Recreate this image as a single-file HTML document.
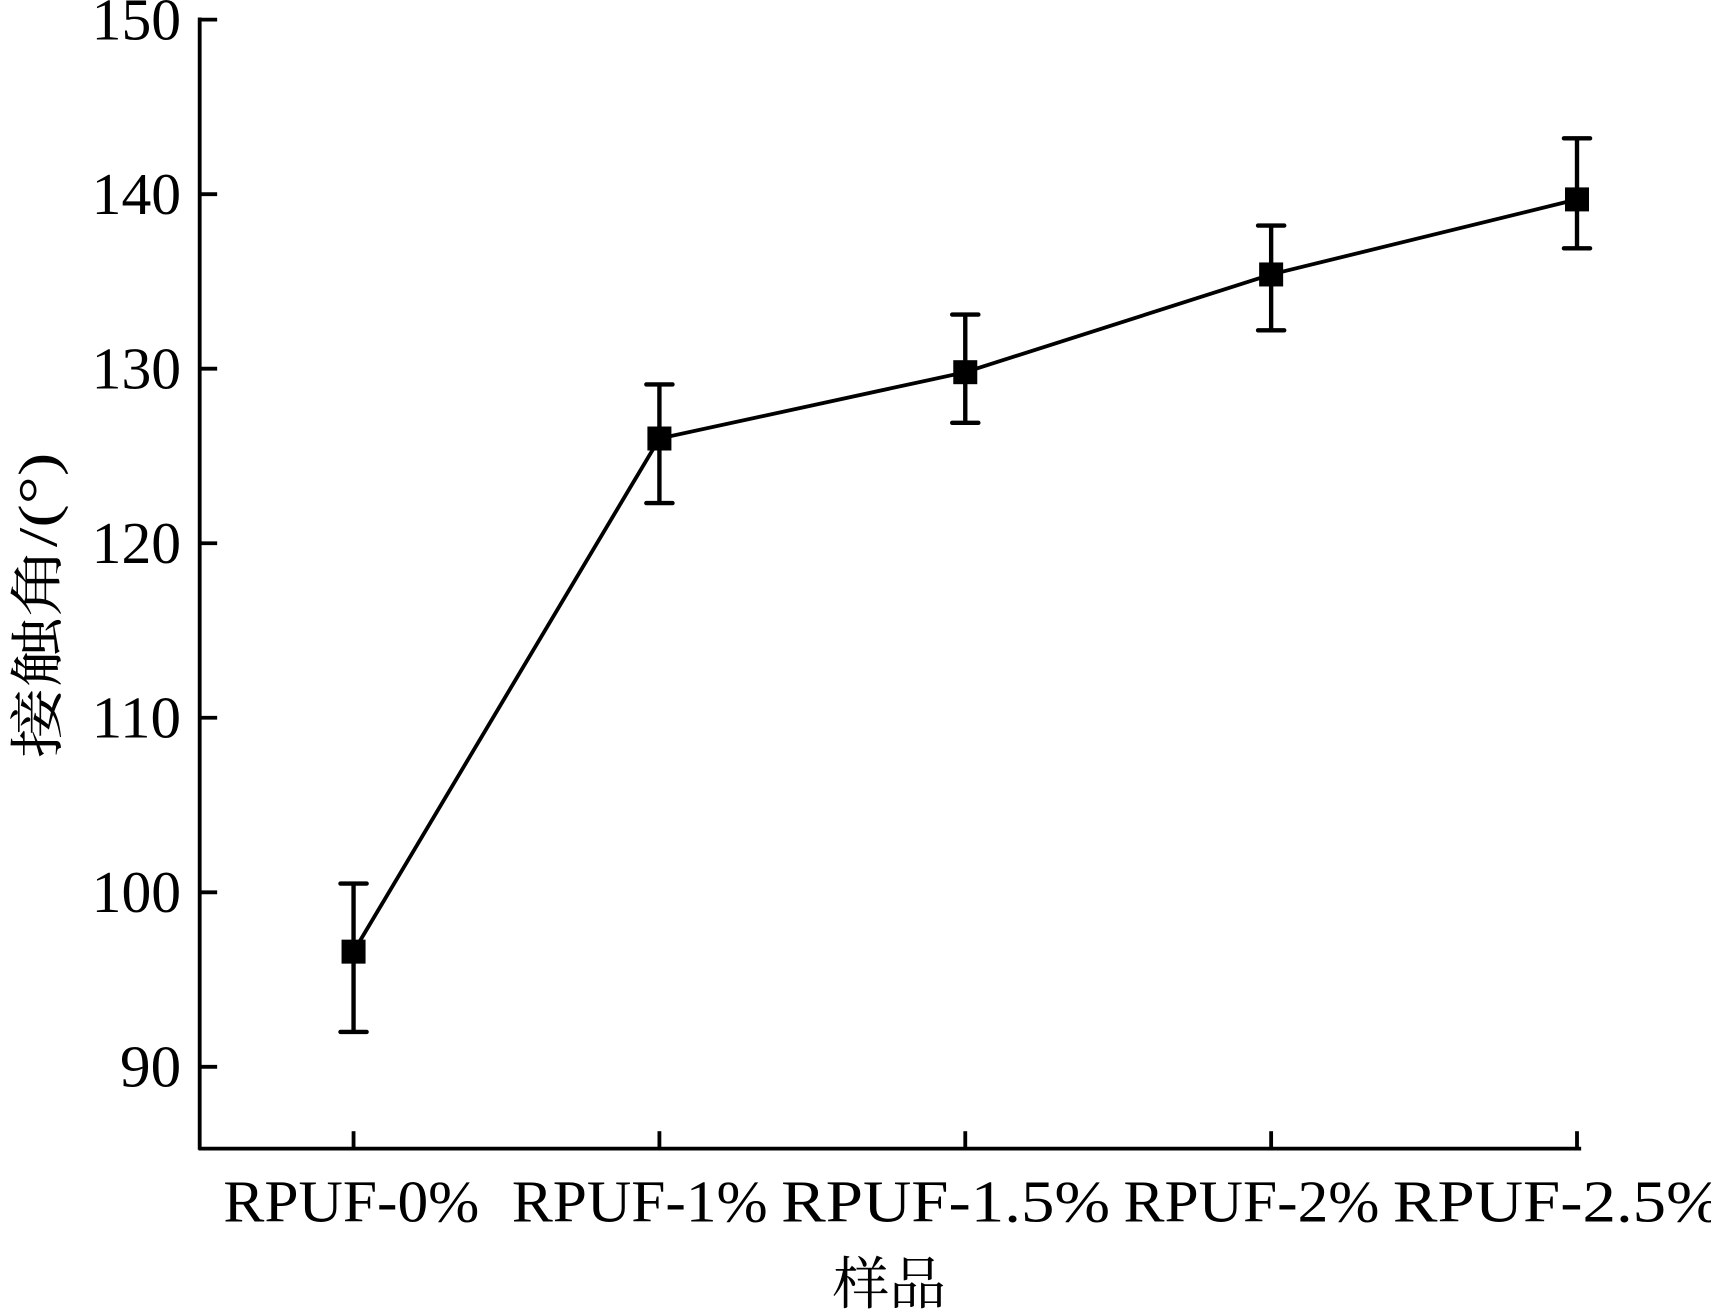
<!DOCTYPE html>
<html><head><meta charset="utf-8"><style>
html,body{margin:0;padding:0;background:#fff;}
svg{display:block;}
text{font-family:"Liberation Serif","Noto Serif CJK SC",serif;fill:#000;}
</style></head><body>
<svg id="chart" width="1711" height="1309" viewBox="0 0 1568 1200" preserveAspectRatio="none" xmlns="http://www.w3.org/2000/svg">
<g id="axes"></g>
<g id="series"></g>
<text transform="translate(52,555) rotate(-90)" text-anchor="middle" font-size="50" textLength="280" lengthAdjust="spacingAndGlyphs">接触角/(°)</text>
<text x="815" y="1195" text-anchor="middle" font-size="52">样品</text>
</svg>
<script>
const categories = ["RPUF-0%","RPUF-1%","RPUF-1.5%","RPUF-2%","RPUF-2.5%"];
const values = [96.6, 126.0, 129.8, 135.4, 139.7];
const errLow = [92.0, 122.3, 126.9, 132.2, 136.9];
const errHigh = [100.5, 129.1, 133.1, 138.2, 143.2];
const yTicks = [90, 100, 110, 120, 130, 140, 150];

const NS = "http://www.w3.org/2000/svg";
const X0 = 183, X1 = 1448, YTOP = 18, YBOT = 1053;
const yMax = 150, yMin = 150 - (YBOT - YTOP) / 16;
function y(v){ return YTOP + (yMax - v) * (YBOT - YTOP) / (yMax - yMin); }
function x(i){ return 324 + i * 280.3; }
function mk(tag, attrs, parent){
  const e = document.createElementNS(NS, tag);
  for (const k in attrs) e.setAttribute(k, attrs[k]);
  parent.appendChild(e); return e;
}
const axes = document.getElementById('axes');
const series = document.getElementById('series');

let yl = mk('line', {x1:X0, y1:YTOP-2, x2:X0, y2:YBOT+1, stroke:'#000','stroke-width':3.5}, axes);


let xl = mk('line', {x1:X0-1, y1:YBOT, x2:X1+1, y2:YBOT, stroke:'#000','stroke-width':3.5}, axes);



yTicks.forEach(t => {
  const tk = mk('line', {x1:X0, y1:y(t), x2:X0+16, y2:y(t), stroke:'#000','stroke-width':3.5}, axes);
  
  
  const lb = mk('text', {x:166, y:y(t)+18, 'text-anchor':'end', 'font-size':54, textLength:t>=100?82:56, lengthAdjust:'spacingAndGlyphs'}, axes);
  
  
  lb.textContent = t;
});
categories.forEach((c, i) => {
  const tk = mk('line', {x1:x(i), y1:YBOT, x2:x(i), y2:YBOT-16, stroke:'#000','stroke-width':3.5}, axes);
  
  
  const lb = mk('text', {x:x(i)-2 - (i>0?16:0), y:1120, 'text-anchor':'middle', 'font-size':54, textLength:c.length*33.5, lengthAdjust:'spacingAndGlyphs'}, axes);
  
  
  lb.textContent = c;
});

const pts = values.map((v, i) => x(i) + ',' + y(v)).join(' ');
const line = mk('polyline', {points:pts, fill:'none', stroke:'#000', 'stroke-width':3.5}, series);



values.forEach((v, i) => {
  const cx = x(i);
  const eb = mk('path', {d:`M${cx},${y(errLow[i])}V${y(errHigh[i])}M${cx-12},${y(errLow[i])}H${cx+12}M${cx-12},${y(errHigh[i])}H${cx+12}`, stroke:'#000', 'stroke-width':4, fill:'none', 'stroke-linecap':'round'}, series);
  
  
  const m = mk('rect', {x:cx-11, y:y(v)-11, width:22, height:22, fill:'#000'}, series);
  
  
});
</script>
</body></html>
